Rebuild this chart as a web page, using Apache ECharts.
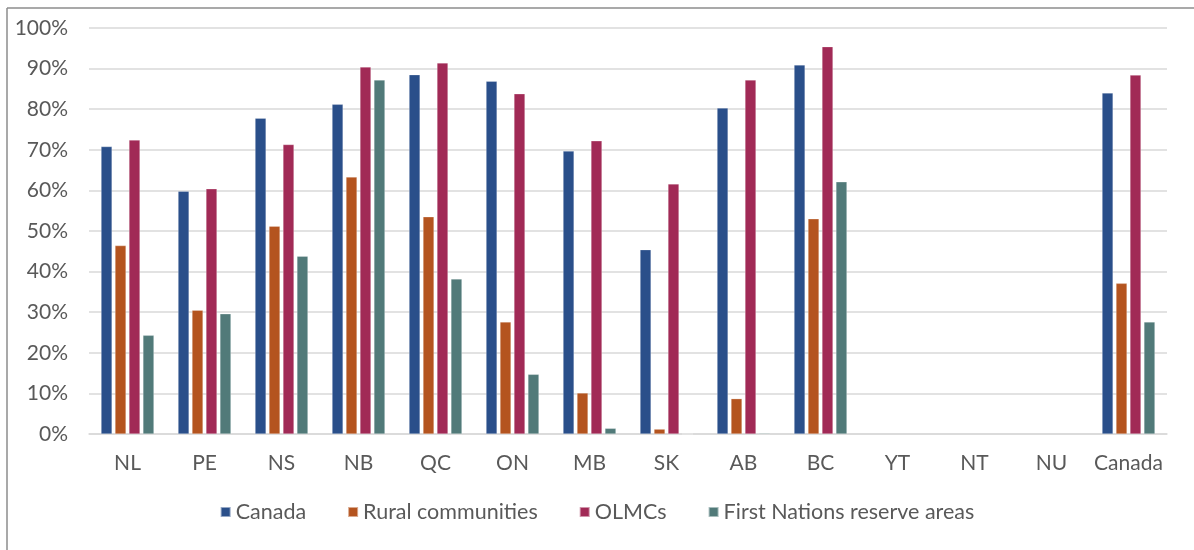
<!DOCTYPE html>
<html><head><meta charset="utf-8">
<script src="https://cdn.jsdelivr.net/npm/echarts@6/dist/echarts.min.js"></script>
<style>html,body{margin:0;padding:0;background:#fff}#c{width:1194px;height:550px}</style>
</head><body><div id="c"></div>
<script>
const categories = ['NL','PE','NS','NB','QC','ON','MB','SK','AB','BC','YT','NT','NU','Canada'];
const seriesNames = ['Canada','Rural communities','OLMCs','First Nations reserve areas'];
const canadaVals = [70.8, 59.8, 77.8, 81.2, 88.5, 86.9, 69.7, 45.4, 80.3, 90.9, null, null, null, 84.0];
const ruralVals  = [46.4, 30.5, 51.2, 63.3, 53.5, 27.6, 10.1, 1.2, 8.7, 53.0, null, null, null, 37.1];
const olmcVals   = [72.4, 60.4, 71.3, 90.4, 91.4, 83.8, 72.2, 61.6, 87.2, 95.4, null, null, null, 88.4];
const fnVals     = [24.3, 29.6, 43.8, 87.2, 38.2, 14.7, 1.4, 0, 0.2, 62.1, null, null, null, 27.6];
const yTicks = [0,10,20,30,40,50,60,70,80,90,100];
const colors = ['#2a4f8a','#b4541f','#a12a56','#517a79'];

const chart = echarts.init(document.getElementById('c'), null, {renderer:'canvas'});
const font = 'Lato, "Open Sans", sans-serif';
const data = [canadaVals, ruralVals, olmcVals, fnVals];
chart.setOption({
  animation:false,
  color: colors,
  textStyle:{fontFamily:font},
  grid:{left:89, right:27, top:28, bottom:116, containLabel:false},
  legend:{
    data: seriesNames, bottom:22, left:'center',
    icon:'rect', itemWidth:10, itemHeight:10, itemGap:41,
    textStyle:{fontSize:21.5, color:'#595959', fontFamily:font}
  },
  xAxis:{
    type:'category', data:categories,
    axisLine:{lineStyle:{color:'#d9d9d9', width:1.5}},
    axisTick:{show:false},
    axisLabel:{fontSize:21, color:'#595959', margin:19, interval:0, fontFamily:font}
  },
  yAxis:{
    type:'value', min:0, max:100, interval:10,
    axisLine:{show:false}, axisTick:{show:false},
    splitLine:{lineStyle:{color:'#d9d9d9', width:1.5}},
    axisLabel:{fontSize:21, color:'#595959', margin:21, fontFamily:font, formatter: v => yTicks.includes(v) ? v + '%' : ''}
  },
  graphic:[
    {type:'line', shape:{x1:7, y1:8, x2:7, y2:550}, style:{stroke:'#8c8c8c', lineWidth:1.5}},
    {type:'line', shape:{x1:7, y1:8, x2:1194, y2:8}, style:{stroke:'#8c8c8c', lineWidth:1.5}}
  ],
  series: seriesNames.map((n,i)=>({
    name:n, type:'bar', data:data[i], barWidth:11, barGap:'27%',
    itemStyle:{color:colors[i], borderColor:'rgba(255,255,255,0.5)', borderWidth:0.5}
  }))
});
</script></body></html>
